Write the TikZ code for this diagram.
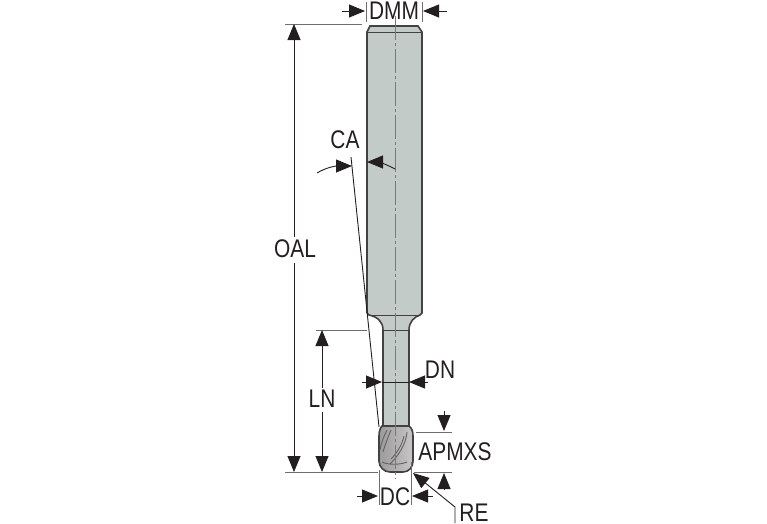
\documentclass[tikz,border=0pt]{standalone}
\usepackage{fontspec}
\setmainfont[FakeStretch=0.82]{Liberation Sans}
\usetikzlibrary{arrows.meta}
\definecolor{steel}{HTML}{C3CBC8}
\definecolor{ink}{HTML}{231F20}
\tikzset{
  dimtext/.style={font=\fontsize{25.5}{27}\selectfont, text=ink, inner sep=0pt},
  dimline/.style={draw=ink, line width=0.9pt},
  extline/.style={draw=ink!65, line width=0.9pt},
  dimarrow/.style={dimline, -{Triangle[length=16pt,width=13pt]}},
  outline/.style={draw=ink!85, line width=1.6pt},
  flute/.style={draw=ink!70, line width=0.9pt},
  centerline/.style={draw=ink!60, line width=1pt, dash pattern=on 24pt off 3pt on 3pt off 3pt}
}
\begin{document}
\begin{tikzpicture}[x=1pt,y=-1pt]
      \useasboundingbox (0,0) rectangle (767,523);

      % shank and neck
      \path[fill=steel] (370,26) -- (418,26) -- (422,32) -- (422,313) -- (420,315) .. controls (414,317) and (409,322) .. (409,330) -- (409,430) -- (383,430) -- (383,330) .. controls (383,322) and (378,317) .. (369,315) -- (367,313) -- (367,32) -- cycle;
      \draw[outline] (367,313) -- (367,32) -- (370,26) -- (418,26) -- (422,32) -- (422,313) -- (420,315) .. controls (414,317) and (409,322) .. (409,330) -- (409,428);
      \draw[outline] (367,313) -- (369,315) .. controls (378,317) and (383,322) .. (383,330) -- (383,428);
      \draw[line width=0.9pt, draw=ink!85] (367,32) -- (422,32) (369,315) -- (420,315) (383,330) -- (409,330);

      % head
      \path[left color=ink!45, middle color=steel!85!white, right color=ink!25] (382,426) -- (409,426) .. controls (412,428) and (413,432) .. (413,436) -- (413,461) .. controls (413,467) and (409,472) .. (403,472) -- (390,472) .. controls (384,472) and (379,467) .. (379,461) -- (379,436) .. controls (379,432) and (380,428) .. (382,426) -- cycle;
      \draw[outline] (382,426) -- (409,426) .. controls (412,428) and (413,432) .. (413,436) -- (413,461) .. controls (413,467) and (409,472) .. (403,472) -- (390,472) .. controls (384,472) and (379,467) .. (379,461) -- (379,436) .. controls (379,432) and (380,428) .. (382,426) -- cycle;
      \draw[flute] (387,430) .. controls (384,436) and (381,443) .. (380,450);
      \draw[flute] (391,430) .. controls (388,437) and (385,445) .. (383,452);
      \draw[flute] (407,432) .. controls (406,444) and (399,455) .. (390,464);
      \draw[flute] (404,436) .. controls (402,445) and (397,453) .. (391,459);
      \draw[flute] (382,462) .. controls (388,465) and (400,465) .. (407,462);

      % axis and taper
      \draw[centerline] (395,16) -- (395,479);
      \draw[dimline] (351,157) -- (379,427);

      % labels
      \node[dimtext] (dmm) at (394,11) {DMM};
      \node[dimtext] (ca) at (345,140) {CA};
      \node[dimtext] (oal) at (295,249) {OAL};
      \node[dimtext] (ln) at (322,399) {LN};
      \node[dimtext] (dn) at (440,370) {DN};
      \node[dimtext] (apmxs) at (455,452) {APMXS};
      \node[dimtext] (dc) at (395,497) {DC};
      \node[dimtext] (re) at (474,512.5) {RE};

      % end points of the dimensions
      \coordinate (dmmL) at (342,11);
      \coordinate (dmmLt) at (365,11);
      \coordinate (dmmR) at (447,11);
      \coordinate (dmmRt) at (423,11);
      \coordinate (oalT) at (294,24);
      \coordinate (oalB) at (294,472);
      \coordinate (lnT) at (322,330);
      \coordinate (lnB) at (322,472);
      \coordinate (dnL) at (362,382);
      \coordinate (dnLt) at (382,382);
      \coordinate (dnR) at (428,382);
      \coordinate (dnRt) at (409,382);
      \coordinate (apT) at (444,411);
      \coordinate (apTt) at (444,431);
      \coordinate (apB) at (444,490);
      \coordinate (apBt) at (444,473);
      \coordinate (dcL) at (357,496);
      \coordinate (dcLt) at (378,496);
      \coordinate (dcR) at (433,496);
      \coordinate (dcRt) at (412,496);
      \coordinate (reT) at (413,473);
      \coordinate (reK) at (455,507);
      \coordinate (reB) at (455,523);
      \coordinate (caA) at (317,173);
      \coordinate (caAt) at (352,166);
      \coordinate (caB) at (395,169);
      \coordinate (caBt) at (367,162);

      % extension lines
      \draw[extline] (366,2) -- (366,22);
      \draw[extline] (422,2) -- (422,22);
      \draw[extline] (285,24) -- (362,24);
      \draw[extline] (285,472) -- (378,472);
      \draw[extline] (316,330) -- (367,330);
      \draw[extline] (416,432) -- (452,432);
      \draw[extline] (414,472) -- (452,472);
      \draw[extline] (379,470) -- (379,505);
      \draw[extline] (411,462) -- (411,505);

      % dimension arrows
      \draw[dimarrow] (oal.north -| oalT) ++(0,-3) -- (oalT);
      \draw[dimarrow] (oal.south -| oalB) ++(0,5) -- (oalB);
      \draw[dimarrow] (ln.north -| lnT) ++(0,-2) -- (lnT);
      \draw[dimarrow] (ln.south -| lnB) ++(0,4) -- (lnB);
      \draw[dimarrow] (dmmL) -- (dmmLt);
      \draw[dimarrow] (dmmR) -- (dmmRt);
      \draw[dimarrow] (dnL) -- (dnLt);
      \draw[dimarrow] (dnR) -- (dnRt);
      \draw[dimline] (dnLt) -- (dnRt);
      \draw[dimarrow] (apT) -- (apTt);
      \draw[dimarrow] (apB) -- (apBt);
      \draw[dimarrow] (dcL) -- (dcLt);
      \draw[dimarrow] (dcR) -- (dcRt);
      \draw[dimarrow] (reB) -- (reK) -- (reT);
      \draw[dimarrow] (caA) .. controls (325,168) and (335,166) .. (caAt);
      \draw[dimarrow] (caB) .. controls (388,165) and (378,162) .. (caBt);

\end{tikzpicture}
\end{document}
